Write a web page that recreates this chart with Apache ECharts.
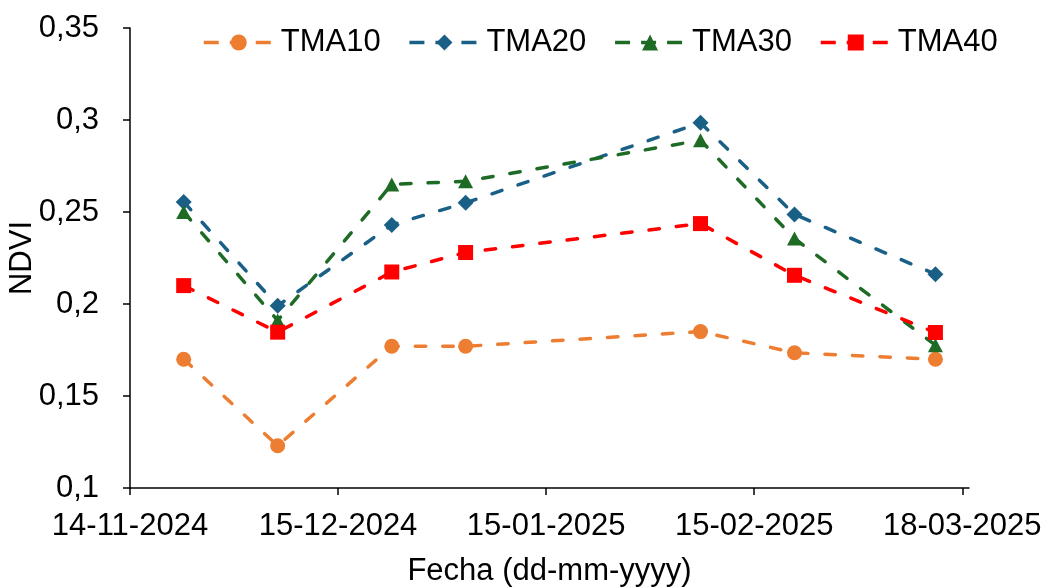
<!DOCTYPE html>
<html>
<head>
<meta charset="utf-8">
<title>NDVI por fecha</title>
<script src="https://cdn.jsdelivr.net/npm/echarts@6/dist/echarts.min.js"></script>
<style>
  html, body { margin: 0; padding: 0; background: #ffffff; }
  #chart { width: 1048px; height: 587px; }
</style>
</head>
<body>
<div id="chart"></div>
<script>
// Sampling dates (dd-mm-yyyy)
const fechas = ['22-11-2024', '06-12-2024', '23-12-2024', '03-01-2025', '07-02-2025', '21-02-2025', '14-03-2025'];

// NDVI per treatment
const tma10 = [0.170, 0.123, 0.177, 0.177, 0.185, 0.1735, 0.170];
const tma20 = [0.2555, 0.199, 0.243, 0.255, 0.2985, 0.2487, 0.2162];
const tma30 = [0.250, 0.191, 0.265, 0.2667, 0.289, 0.2356, 0.1776];
const tma40 = [0.210, 0.1847, 0.2174, 0.228, 0.2437, 0.2156, 0.1845];

// Date axis: origin, end and tick dates
const fechaInicio = '14-11-2024';
const fechaFin = '19-03-2025';
const fechasTicks = ['14-11-2024', '15-12-2024', '15-01-2025', '15-02-2025', '18-03-2025'];

const DAY = 86400000;
function parseFecha(s) {
  const [d, m, y] = s.split('-').map(Number);
  return Date.UTC(y, m - 1, d);
}
const t0 = parseFecha(fechaInicio);
const dias = s => Math.round((parseFecha(s) - t0) / DAY);
function fechaDesdeDias(n) {
  const dt = new Date(t0 + n * DAY);
  const dd = String(dt.getUTCDate()).padStart(2, '0');
  const mm = String(dt.getUTCMonth() + 1).padStart(2, '0');
  return dd + '-' + mm + '-' + dt.getUTCFullYear();
}
const xDias = fechas.map(dias);
const tickDias = fechasTicks.map(dias);
const pares = vals => vals.map((v, i) => [xDias[i], v]);

const FONT = '"Liberation Sans", Arial, sans-serif';
const FS = 31;
const lineW = 3.5;
const dash = [10.5, 17];

function serie(name, vals, color, symbol, size) {
  return {
    name: name,
    type: 'line',
    data: pares(vals),
    symbol: symbol,
    symbolSize: size,
    showAllSymbol: true,
    lineStyle: { color: color, width: lineW, type: dash, cap: 'round' },
    itemStyle: { color: color },
    emphasis: { disabled: true },
    animation: false
  };
}

const chart = echarts.init(document.getElementById('chart'), null, { renderer: 'canvas' });
chart.setOption({
  backgroundColor: '#ffffff',
  textStyle: { fontFamily: FONT },
  grid: { left: 130, right: 79, top: 28, bottom: 99, containLabel: false, outerBoundsMode: 'none' },
  legend: {
    left: 197,
    top: 22,
    itemWidth: 70,
    itemHeight: 20,
    itemGap: 27,
    lineStyle: { type: [15, 11], width: 3.5, cap: 'butt' },
    textStyle: { fontFamily: FONT, fontSize: FS, color: '#000000', padding: [0, 0, 0, 2] },
    data: ['TMA10', 'TMA20', 'TMA30', 'TMA40']
  },
  xAxis: {
    type: 'value',
    min: 0,
    max: dias(fechaFin),
    interval: 31,
    name: 'Fecha (dd-mm-yyyy)',
    nameLocation: 'middle',
    nameGap: 68,
    nameMoveOverlap: false,
    nameTextStyle: { fontFamily: FONT, fontSize: FS, color: '#000000' },
    splitLine: { show: false },
    axisLine: { show: true, onZero: false, lineStyle: { color: '#000000', width: 1.5 } },
    axisTick: { show: true, length: 7, lineStyle: { color: '#000000', width: 1.5 }, customValues: tickDias },
    axisLabel: {
      customValues: tickDias,
      margin: 23,
      fontFamily: FONT, fontSize: FS, color: '#000000',
      formatter: v => fechaDesdeDias(v)
    }
  },
  yAxis: {
    type: 'value',
    min: 0.1,
    max: 0.35,
    interval: 0.05,
    name: 'NDVI',
    nameLocation: 'middle',
    nameGap: 92,
    nameMoveOverlap: false,
    nameTextStyle: { fontFamily: FONT, fontSize: FS, color: '#000000' },
    splitLine: { show: false },
    axisLine: { show: true, lineStyle: { color: '#000000', width: 1.5 } },
    axisTick: { show: true, length: 7, lineStyle: { color: '#000000', width: 1.5 } },
    axisLabel: {
      margin: 31,
      fontFamily: FONT, fontSize: FS, color: '#000000',
      formatter: v => String(Math.round(v * 100) / 100).replace('.', ',')
    }
  },
  series: [
    serie('TMA10', tma10, '#ED7D31', 'circle', 15),
    serie('TMA20', tma20, '#1A5F86', 'diamond', [16, 16]),
    serie('TMA30', tma30, '#1E6B26', 'triangle', [15, 14]),
    serie('TMA40', tma40, '#FF0000', 'rect', [15, 15])
  ]
});
</script>
</body>
</html>
